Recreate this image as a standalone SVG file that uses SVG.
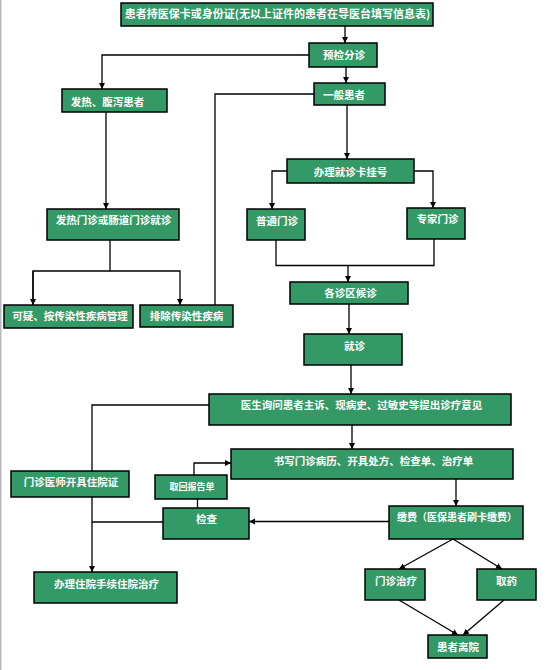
<svg xmlns="http://www.w3.org/2000/svg" width="554" height="670" viewBox="0 0 554 670">
<style>
.b{fill:#339966;stroke:#000;stroke-width:1.5}
.t{fill:#fff;font-family:"Noto Sans CJK SC","Noto Sans CJK JP",sans-serif;font-weight:bold;font-size:10.5px;text-anchor:middle}
.c{fill:none;stroke:#000;stroke-width:1.3}
</style>
<defs>
<marker id="a" markerUnits="userSpaceOnUse" markerWidth="7" markerHeight="7" refX="6" refY="3.5" orient="auto">
<path d="M0,0.5 L6,3.5 L0,6.5 Z" fill="#000"/>
</marker>
</defs>
<rect x="0" y="0" width="554" height="670" fill="#fff"/>
<rect x="0" y="0" width="1.5" height="670" fill="#b4b8c0"/>
<g id="connectors">
<path class="c" d="M345,26 V43" marker-end="url(#a)"/>
<path class="c" d="M309,55 H102 V89" marker-end="url(#a)"/>
<path class="c" d="M346,67 V83" marker-end="url(#a)"/>
<path class="c" d="M314,94 H215 V305"/>
<path class="c" d="M106,112 V209" marker-end="url(#a)"/>
<path class="c" d="M110,240 V271"/>
<path class="c" d="M33,305 V271 H180 V305" marker-end="url(#a)"/>
<path class="c" d="M33,271 V305" marker-end="url(#a)"/>
<path class="c" d="M347,105 V159" marker-end="url(#a)"/>
<path class="c" d="M287,171 H272 V209" marker-end="url(#a)"/>
<path class="c" d="M414,171 H433 V208" marker-end="url(#a)"/>
<path class="c" d="M276,240 V265.5 H434 V239"/>
<path class="c" d="M348,265.5 V282" marker-end="url(#a)"/>
<path class="c" d="M349,304 V334" marker-end="url(#a)"/>
<path class="c" d="M351,365 V394" marker-end="url(#a)"/>
<path class="c" d="M209,405 H92 V572" marker-end="url(#a)"/>
<path class="c" d="M352,425 V449" marker-end="url(#a)"/>
<path class="c" d="M194,475 V463 H231" marker-end="url(#a)"/>
<path class="c" d="M197.5,499 V508"/>
<path class="c" d="M163,522 H92"/>
<path class="c" d="M456,479 V506" marker-end="url(#a)"/>
<path class="c" d="M389,521.5 H249" marker-end="url(#a)"/>
<path class="c" d="M453,539 L399,569" marker-end="url(#a)"/>
<path class="c" d="M453,539 L502,569" marker-end="url(#a)"/>
<path class="c" d="M399,600 L458,635" marker-end="url(#a)"/>
<path class="c" d="M504,600 L463,635" marker-end="url(#a)"/>
</g>
<g id="n1"><rect class="b" x="121" y="3" width="312" height="23"/><text class="t" x="277.5" y="18" style="font-size:11px">患者持医保卡或身份证(无以上证件的患者在导医台填写信息表)</text></g>
<g id="n2"><rect class="b" x="309" y="43" width="68" height="24"/><text class="t" x="344" y="58.5">预检分诊</text></g>
<g id="n3"><rect class="b" x="314" y="83" width="71" height="22"/><text class="t" x="344" y="99">一般患者</text></g>
<g id="n4"><rect class="b" x="62" y="89" width="105" height="23"/><text class="t" x="107.5" y="105.5">发热、腹泻患者</text></g>
<g id="n5"><rect class="b" x="47" y="209" width="132" height="31"/><text class="t" x="113.5" y="224">发热门诊或肠道门诊就诊</text></g>
<g id="n6"><rect class="b" x="4" y="305" width="129" height="23"/><text class="t" x="70" y="320">可疑、按传染性疾病管理</text></g>
<g id="n7"><rect class="b" x="140" y="305" width="93" height="22"/><text class="t" x="186.5" y="320">排除传染性疾病</text></g>
<g id="n8"><rect class="b" x="287" y="159" width="127" height="24"/><text class="t" x="350.5" y="175.5">办理就诊卡挂号</text></g>
<g id="n9"><rect class="b" x="247" y="209" width="58" height="31"/><text class="t" x="277" y="225">普通门诊</text></g>
<g id="n10"><rect class="b" x="407" y="208" width="58" height="31"/><text class="t" x="437.5" y="223">专家门诊</text></g>
<g id="n11"><rect class="b" x="290" y="282" width="118" height="22"/><text class="t" x="350.5" y="297">各诊区候诊</text></g>
<g id="n12"><rect class="b" x="304" y="334" width="98" height="31"/><text class="t" x="354.5" y="350">就诊</text></g>
<g id="n13"><rect class="b" x="209" y="394" width="302" height="31"/><text class="t" x="361.5" y="409">医生询问患者主诉、现病史、过敏史等提出诊疗意见</text></g>
<g id="n14"><rect class="b" x="231" y="449" width="282" height="30"/><text class="t" x="373.5" y="464.5">书写门诊病历、开具处方、检查单、治疗单</text></g>
<g id="n15"><rect class="b" x="11" y="471" width="118" height="26"/><text class="t" x="71" y="485.5">门诊医师开具住院证</text></g>
<g id="n16"><rect class="b" x="155" y="475" width="72" height="24"/><text class="t" x="192" y="490" style="font-size:9px">取回报告单</text></g>
<g id="n17"><rect class="b" x="163" y="508" width="86" height="31"/><text class="t" x="206.5" y="523">检查</text></g>
<g id="n18"><rect class="b" x="34" y="572" width="143" height="31"/><text class="t" x="106.5" y="588">办理住院手续住院治疗</text></g>
<g id="n19"><rect class="b" x="389" y="506" width="134" height="33"/><text class="t" x="457" y="520.5" style="font-size:10px">缴费（医保患者刷卡缴费）</text></g>
<g id="n20"><rect class="b" x="365" y="569" width="60" height="31"/><text class="t" x="396" y="585">门诊治疗</text></g>
<g id="n21"><rect class="b" x="477" y="569" width="59" height="31"/><text class="t" x="506.5" y="585">取药</text></g>
<g id="n22"><rect class="b" x="428" y="635" width="59" height="23"/><text class="t" x="458" y="650.5">患者离院</text></g>
</svg>
